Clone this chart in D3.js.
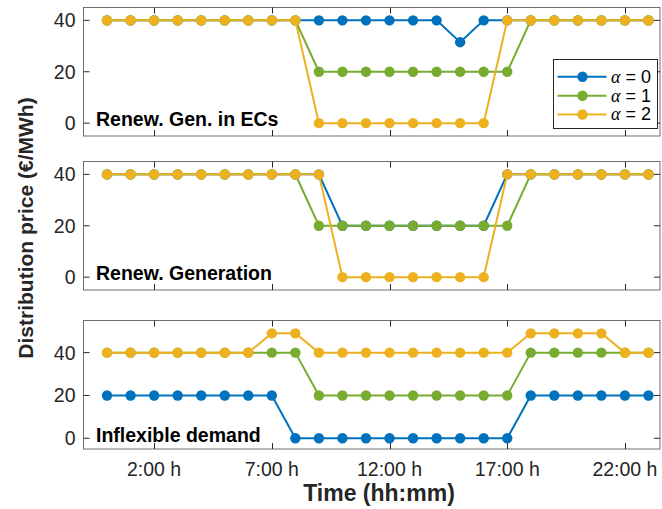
<!DOCTYPE html>
<html><head><meta charset="utf-8">
<script src="https://cdn.jsdelivr.net/npm/d3@7"></script>
<style>body{margin:0;background:#fff;}svg{display:block;font-family:"Liberation Sans",Arial,sans-serif;}</style>
</head><body><svg id="c" width="662" height="509"></svg>
<script>
const hours = [0,1,2,3,4,5,6,7,8,9,10,11,12,13,14,15,16,17,18,19,20,21,22,23];
const xTickHours = [2,7,12,17,22];
const xTickLabels = ["2:00 h","7:00 h","12:00 h","17:00 h","22:00 h"];
const yTicks = [0,20,40];
const seriesNames = ["\u03b1 = 0","\u03b1 = 1","\u03b1 = 2"];
const colors = ["#0072BD","#77AC30","#EDB120"];
const panelTitles = ["Renew. Gen. in ECs","Renew. Generation","Inflexible demand"];

const ecs_a0 = [40,40,40,40,40,40,40,40,40,40,40,40,40,40,40,31.5,40,40,40,40,40,40,40,40];
const ecs_a1 = [40,40,40,40,40,40,40,40,40,20,20,20,20,20,20,20,20,20,40,40,40,40,40,40];
const ecs_a2 = [40,40,40,40,40,40,40,40,40,0,0,0,0,0,0,0,0,40,40,40,40,40,40,40];

const gen_a0 = [40,40,40,40,40,40,40,40,40,40,20,20,20,20,20,20,20,40,40,40,40,40,40,40];
const gen_a1 = [40,40,40,40,40,40,40,40,40,20,20,20,20,20,20,20,20,20,40,40,40,40,40,40];
const gen_a2 = [40,40,40,40,40,40,40,40,40,40,0,0,0,0,0,0,0,40,40,40,40,40,40,40];

const dem_a0 = [20,20,20,20,20,20,20,20,0,0,0,0,0,0,0,0,0,0,20,20,20,20,20,20];
const dem_a1 = [40,40,40,40,40,40,40,40,40,20,20,20,20,20,20,20,20,20,40,40,40,40,40,40];
const dem_a2 = [40,40,40,40,40,40,40,49,49,40,40,40,40,40,40,40,40,40,49,49,49,49,40,40];

const panels = [
  {title: panelTitles[0], series:[ecs_a0,ecs_a1,ecs_a2], top:7.5, bottom:136, ydom:[-5,45], titleY:126, legend:true},
  {title: panelTitles[1], series:[gen_a0,gen_a1,gen_a2], top:161.5, bottom:290, ydom:[-5,45], titleY:280},
  {title: panelTitles[2], series:[dem_a0,dem_a1,dem_a2], top:320.5, bottom:449, ydom:[-5,55], titleY:441.5}
];

const svg = d3.select("#c");
const left = 83.5, right = 660;
const x = d3.scaleLinear().domain([-1, 23.49]).range([left, right]);
const axisCol = "#262626";

panels.forEach((p, pi) => {
  const y = d3.scaleLinear().domain(p.ydom).range([p.bottom, p.top]);
  const g = svg.append("g");
  g.append("rect").attr("x", left).attr("y", p.top).attr("width", right-left).attr("height", p.bottom-p.top)
    .attr("fill","#fff").attr("stroke","#6e6e6e").attr("stroke-width",1);
  xTickHours.forEach(h => {
    const xx = Math.round(x(h))+0.5;
    g.append("line").attr("x1",xx).attr("x2",xx).attr("y1",p.bottom).attr("y2",p.bottom-6).attr("stroke",axisCol);
    g.append("line").attr("x1",xx).attr("x2",xx).attr("y1",p.top).attr("y2",p.top+6).attr("stroke",axisCol);
  });
  yTicks.forEach(v => {
    const yy = y(v);
    g.append("line").attr("x1",left).attr("x2",left+6).attr("y1",yy).attr("y2",yy).attr("stroke",axisCol);
    g.append("line").attr("x1",right).attr("x2",right-6).attr("y1",yy).attr("y2",yy).attr("stroke",axisCol);
    g.append("text").attr("x",left-8).attr("y",yy).attr("dy","0.36em").attr("text-anchor","end")
      .attr("font-size",19.5).attr("fill",axisCol).text(v);
  });
  p.series.forEach((vals, si) => {
    const pts = hours.map((h,i)=>[h, vals[i]]);
    g.append("path").datum(pts)
      .attr("d", d3.line().x(d=>x(d[0])).y(d=>y(d[1])))
      .attr("fill","none").attr("stroke",colors[si]).attr("stroke-width",2);
    g.selectAll(null).data(pts).enter().append("circle")
      .attr("cx",d=>x(d[0])).attr("cy",d=>y(d[1])).attr("r",5.2).attr("fill",colors[si]);
  });
  g.append("text").attr("x",96).attr("y",p.titleY).attr("font-size",19.5).attr("font-weight","bold")
    .attr("fill","#000").text(p.title);
  if (p.legend) {
    const lg = svg.append("g");
    lg.append("rect").attr("x",553.5).attr("y",59.5).attr("width",104).attr("height",69)
      .attr("fill","#fff").attr("stroke","#262626").attr("stroke-width",1);
    const rows = [76.7, 95.7, 114.5];
    seriesNames.forEach((n, i) => {
      lg.append("line").attr("x1",557.5).attr("x2",606.5).attr("y1",rows[i]).attr("y2",rows[i])
        .attr("stroke",colors[i]).attr("stroke-width",2);
      lg.append("circle").attr("cx",582.5).attr("cy",rows[i]).attr("r",5.2).attr("fill",colors[i]);
      const t = lg.append("text").attr("x",611).attr("y",rows[i]).attr("dy","0.36em").attr("font-size",16.5).attr("fill","#000");
      t.append("tspan").attr("font-family","'Liberation Serif','DejaVu Serif',serif").attr("font-style","italic").attr("font-size",18).text("\u03b1");
      t.append("tspan").attr("font-size",18).text(" = " + i);
    });
  }
});

xTickHours.forEach((h,i) => {
  svg.append("text").attr("x",x(h)).attr("y",476).attr("text-anchor","middle").attr("font-size",19.5)
    .attr("fill",axisCol).text(xTickLabels[i]);
});
svg.append("text").attr("x",379).attr("y",501).attr("text-anchor","middle").attr("font-size",23)
  .attr("font-weight","bold").attr("fill","#262626").text("Time (hh:mm)");
svg.append("text").attr("transform","translate(33,228) rotate(-90)").attr("text-anchor","middle")
  .attr("font-size",21).attr("font-weight","bold").attr("fill","#262626").text("Distribution price (\u20ac/MWh)");
</script></body></html>
